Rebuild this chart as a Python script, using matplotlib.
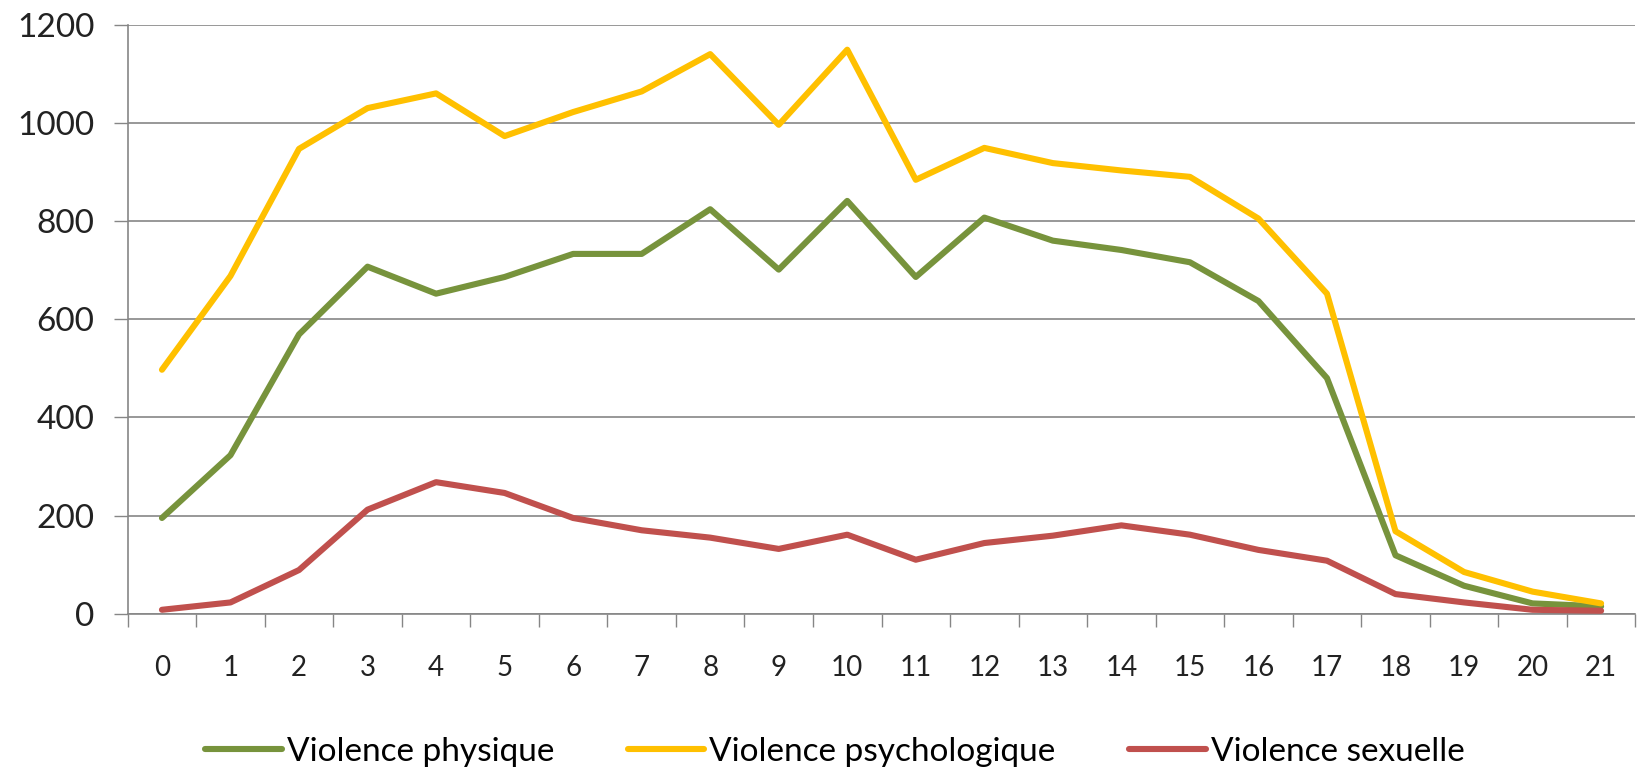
import matplotlib.pyplot as plt
import numpy as np

# valeurs
categories = list(range(22))
physique = [195, 323, 569, 707, 652, 686, 733, 733, 824, 701, 841,
            686, 807, 760, 741, 716, 637, 480, 119, 57, 21, 15]
psychologique = [497, 688, 947, 1030, 1060, 973, 1022, 1064, 1140, 996, 1149,
                 884, 949, 918, 903, 890, 805, 652, 168, 85, 45, 21]
sexuelle = [8, 23, 89, 212, 268, 246, 195, 170, 155, 132, 161,
            110, 144, 159, 180, 161, 130, 108, 40, 23, 8, 6]

series = [
    ('Violence physique', physique, '#77933C'),
    ('Violence psychologique', psychologique, '#FFC000'),
    ('Violence sexuelle', sexuelle, '#C0504D'),
]


def main():
    plt.rcParams['font.family'] = ['Lato', 'DejaVu Sans']
    fig = plt.figure(figsize=(16.37, 7.71), dpi=100)
    ax = fig.add_axes([0.078, 0.204, 0.921, 0.764])

    for label, values, color in series:
        ax.plot(categories, values, color=color, lw=4.4, label=label,
                solid_capstyle='round', solid_joinstyle='round', zorder=3)

    ax.set_xlim(-0.5, 21.5)
    ax.set_ylim(0, 1200)
    ax.set_yticks(np.arange(0, 1201, 200))
    ax.set_xticks(categories)
    ax.set_xticks(np.arange(-0.5, 22, 1), minor=True)
    ax.tick_params(axis='x', which='major', length=0, pad=30,
                   labelsize=20, labelcolor='#222222')
    ax.tick_params(axis='x', which='minor', length=9, width=1,
                   color='#868686', direction='out')
    ax.tick_params(axis='y', length=10, width=1, color='#868686',
                   labelsize=24, labelcolor='#222222', pad=14)

    ax.grid(axis='y', color='#868686', lw=1.2, zorder=1)
    for side in ['top', 'right']:
        ax.spines[side].set_visible(False)
    for side in ['left', 'bottom']:
        ax.spines[side].set_color('#868686')
        ax.spines[side].set_linewidth(1.2)

    fig.legend(loc='center', bbox_to_anchor=(0.51, 0.025), ncol=3,
               frameon=False, fontsize=24, handlelength=2.3,
               handletextpad=0.15, columnspacing=2.2)

    fig.savefig('out.png', dpi=100, facecolor='white')


if __name__ == "__main__":
    main()
